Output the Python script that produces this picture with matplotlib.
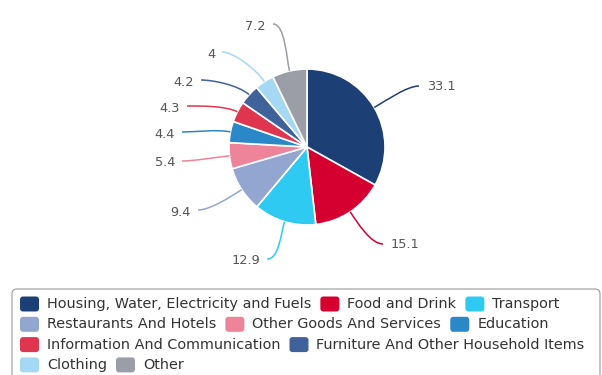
import matplotlib
matplotlib.use("Agg")
import numpy as np
import matplotlib.pyplot as plt
from matplotlib.patches import FancyBboxPatch, PathPatch
from matplotlib.path import Path

# Data
categories = ["Housing, Water, Electricity and Fuels", "Food and Drink", "Transport",
              "Restaurants And Hotels", "Other Goods And Services", "Education",
              "Information And Communication", "Furniture And Other Household Items",
              "Clothing", "Other"]
values = [33.1, 15.1, 12.9, 9.4, 5.4, 4.4, 4.3, 4.2, 4, 7.2]
value_labels = ["33.1", "15.1", "12.9", "9.4", "5.4", "4.4", "4.3", "4.2", "4", "7.2"]
colors = ["#1c3f75", "#d5002f", "#2fcaf2", "#92a6d0", "#ee8499",
          "#2a88c8", "#e0354f", "#40629a", "#a5d8f3", "#9c9ea7"]

# layout (pixel coords, y from top)
W, H = 602, 375
CX, CY, R = 307, 147, 78
label_ends = [(419, 86), (383, 244), (267, 259), (198, 210), (182, 161),
              (182, 132), (187, 106), (201, 80), (222, 52), (273, 24)]

fig = plt.figure(figsize=(W / 100, H / 100), dpi=100)
ax = fig.add_axes([0, 0, 1, 1])


def py(y):
    return H - y


ax.pie(values, colors=colors, startangle=90, counterclock=False,
       center=(CX, py(CY)), radius=R,
       wedgeprops=dict(edgecolor="white", linewidth=1.2))
ax.set_xlim(0, W)
ax.set_ylim(0, H)
ax.set_aspect("auto")
ax.axis("off")

# data labels with curved connectors
total = float(sum(values))
cum = 0.0
for v, lab, col, (ex, ey) in zip(values, value_labels, colors, label_ends):
    mid = np.deg2rad(90 - 360 * (cum + v / 2) / total)
    cum += v
    dx, dy = np.cos(mid), np.sin(mid)
    p0 = (CX + R * dx, py(CY) + R * dy)
    p1 = (CX + (R + 14) * dx, py(CY) + (R + 14) * dy)
    right = ex > CX
    p2 = (ex - 12 if right else ex + 12, py(ey))
    p3 = (ex, py(ey))
    path = Path([p0, p1, p2, p3], [Path.MOVETO, Path.CURVE4, Path.CURVE4, Path.CURVE4])
    ax.add_patch(PathPatch(path, facecolor="none", edgecolor=col, lw=1.1))
    if right:
        ax.text(ex + 8, py(ey + 1), lab, ha="left", va="center",
                fontsize=9.3, color="#555555")
    else:
        ax.text(ex - 7, py(ey + 2), lab, ha="right", va="center",
                fontsize=9.3, color="#555555")

# legend box
ax.add_patch(FancyBboxPatch((12, py(380)), 588, 91,
                            boxstyle="round,pad=0,rounding_size=5",
                            facecolor="white", edgecolor="#999999", lw=0.8))

fig.canvas.draw()
renderer = fig.canvas.get_renderer()
x, row_y = 20, 304
sw, sh, gap, item_gap, x_max = 19, 15, 8, 9, 599
for name, col in zip(categories, colors):
    t = ax.text(0, 0, name, fontsize=10.4, color="#333333", va="center", ha="left")
    tw = t.get_window_extent(renderer).width
    if x + sw + gap + tw > x_max and x > 20:
        x = 20
        row_y += 20.3
    ax.add_patch(FancyBboxPatch((x, py(row_y) - sh / 2), sw, sh,
                                boxstyle="round,pad=0,rounding_size=3",
                                facecolor=col, edgecolor="none"))
    t.set_position((x + sw + gap, py(row_y)))
    x += sw + gap + tw + item_gap

fig.savefig("out.png", dpi=100)
